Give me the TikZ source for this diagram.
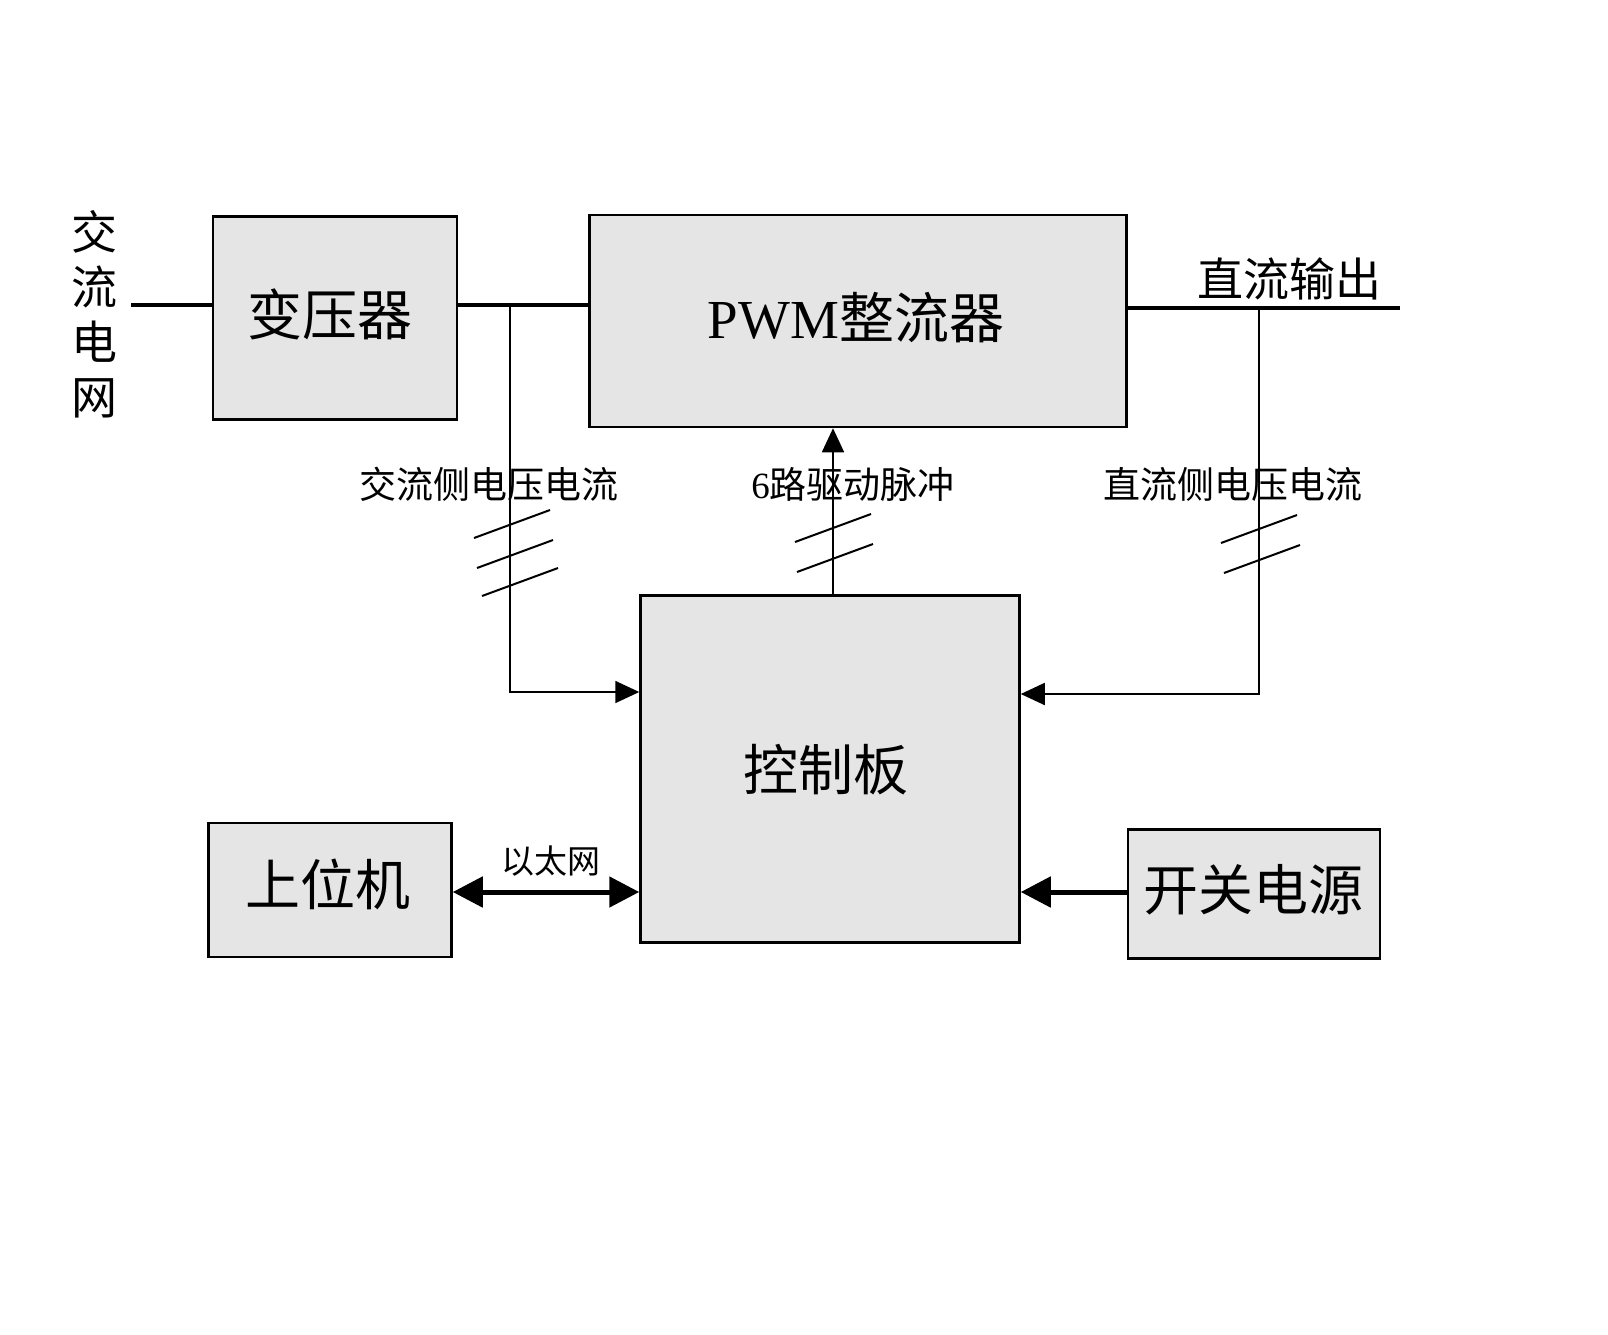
\documentclass[tikz,border=0pt]{standalone}
\usepackage{fontspec}
\setmainfont{Liberation Serif}
\newfontfamily\cjk{Noto Sans CJK SC}
\usetikzlibrary{arrows.meta}

\begin{document}
\begin{tikzpicture}[x=1pt,y=-1pt,
    block/.style={draw,line width=2.5pt,fill=black!10,inner sep=0pt},
    bigtext/.style={font=\fontsize{55}{60}\selectfont},
    smalltext/.style={font=\cjk\fontsize{37}{40}\selectfont},
    power/.style={line width=4.5pt},
    sig/.style={line width=1.8pt},
    slashmark/.style={line width=2pt},
    head/.style={-{Triangle[length=24pt,width=22pt]}},
    fathead/.style={line width=5pt,-{Triangle[length=30pt,width=30pt]}},
    twohead/.style={line width=5pt,{Triangle[length=30pt,width=30pt]}-{Triangle[length=30pt,width=30pt]}}]
    \useasboundingbox (0,0) rectangle (1608,1334);
    \node[block,minimum width=244pt,minimum height=203pt] (trafo) at (335,318) {};
    \node[bigtext] at (330,314) {\cjk 变压器};
    \node[block,minimum width=537pt,minimum height=212pt] (pwm) at (858,321) {};
    \node[bigtext] at (856,318) {PWM{\cjk 整流器}};
    \node[block,minimum width=379pt,minimum height=347pt] (ctrl) at (830,769) {};
    \node[bigtext] at (826,770) {\cjk 控制板};
    \node[block,minimum width=243pt,minimum height=134pt] (host) at (330,890) {};
    \node[bigtext] at (328,884) {\cjk 上位机};
    \node[block,minimum width=252pt,minimum height=129pt] (psu) at (1254,894) {};
    \node[bigtext] at (1253,890) {\cjk 开关电源};
    \node[font=\cjk\fontsize{46}{55}\selectfont,align=center] (grid) at (94,314) {交\\流\\电\\网};
    \node[font=\cjk\fontsize{46}{50}\selectfont] (dcout) at (1289,279) {直流输出};
    \coordinate (acin) at (131,305);
    \coordinate (actap) at (510,305);
    \coordinate (dcend) at (1400,308);
    \coordinate (dctap) at (1259,308);
    \coordinate (acy) at (0,692);
    \coordinate (dcy) at (0,694);
    \coordinate (pulsex) at (833,0);
    \coordinate (buslvl) at (0,892);
    \draw[power] (acin) -- (acin -| trafo.west);
    \draw[power] (trafo.east |- acin) -- (pwm.west |- acin);
    \draw[power] (pwm.east |- dcend) -- (dcend);
    \draw[sig,head] (actap) |- (ctrl.west |- acy);
    \draw[sig,head] (dctap) |- (ctrl.east |- dcy);
    \draw[sig,head] (pulsex |- ctrl.north) -- (pulsex |- pwm.south);
    \draw[twohead] (host.east |- buslvl) -- (ctrl.west |- buslvl);
    \draw[fathead] (psu.west |- buslvl) -- (ctrl.east |- buslvl);
    \node[smalltext] at (489,484) {交流侧电压电流};
    \node[font=\fontsize{37}{40}\selectfont] at (853,484) {6{\cjk 路驱动脉冲}};
    \node[smalltext] at (1233,484) {直流侧电压电流};
    \node[font=\cjk\fontsize{33}{36}\selectfont] at (551,861) {以太网};
    \foreach \sx/\sy in {512/524,515/554,520/582}
        \draw[slashmark] (\sx,\sy) ++(-38,14) -- ++(76,-28);
    \foreach \sx/\sy in {833/528,835/558}
        \draw[slashmark] (\sx,\sy) ++(-38,14) -- ++(76,-28);
    \foreach \sx/\sy in {1259/529,1262/559}
        \draw[slashmark] (\sx,\sy) ++(-38,14) -- ++(76,-28);
\end{tikzpicture}
\end{document}
